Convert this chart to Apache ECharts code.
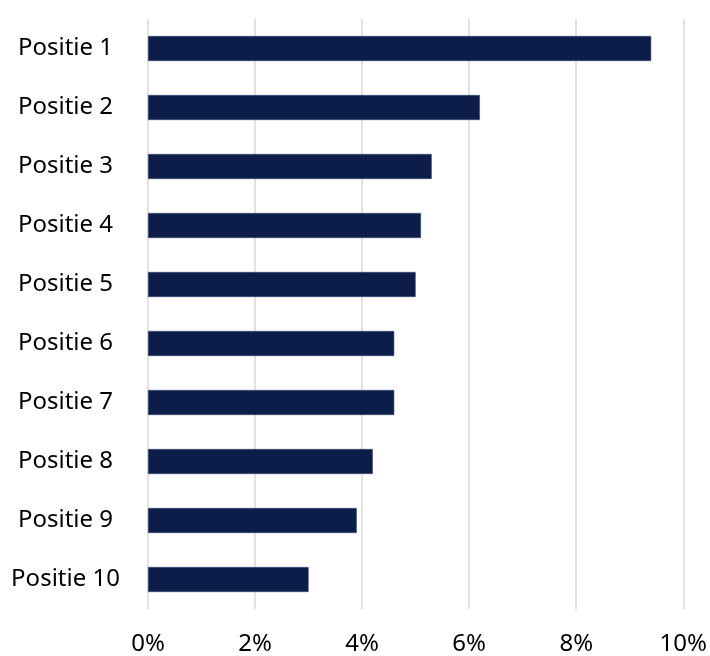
<!DOCTYPE html>
<html>
<head>
<meta charset="utf-8">
<script src="https://cdn.jsdelivr.net/npm/echarts@6/dist/echarts.min.js"></script>
<style>html,body{margin:0;padding:0;background:#fff;}#c{width:710px;height:656px;}</style>
</head>
<body>
<div id="c"></div>
<script>
const categories = ["Positie 1","Positie 2","Positie 3","Positie 4","Positie 5","Positie 6","Positie 7","Positie 8","Positie 9","Positie 10"];
const values = [9.4, 6.2, 5.3, 5.1, 5.0, 4.6, 4.6, 4.2, 3.9, 3.0];
const xTicks = [0, 2, 4, 6, 8, 10];

const chart = echarts.init(document.getElementById('c'));
chart.setOption({
  animation: false,
  grid: {left: 148, right: 25, top: 19, bottom: 47},
  xAxis: {
    type: 'value', min: xTicks[0], max: xTicks[xTicks.length-1], interval: 2,
    axisLine: {show: false}, axisTick: {show: false},
    splitLine: {show: true, lineStyle: {color: '#d9d9d9', width: 1.5}},
    axisLabel: {formatter: v => v + '%', fontFamily: 'Noto Sans', fontSize: 24, color: '#000', margin: 23}
  },
  yAxis: {
    type: 'category', data: categories, inverse: true,
    axisLine: {show: false}, axisTick: {show: false},
    axisLabel: {fontFamily: 'Noto Sans', fontSize: 24, color: '#000', align: 'center', margin: 82.5}
  },
  series: [{
    type: 'bar', data: values, barWidth: 25,
    itemStyle: {color: '#0b1d48', borderColor: '#3b4a70', borderWidth: 0.6}
  }]
});
</script>
</body>
</html>
